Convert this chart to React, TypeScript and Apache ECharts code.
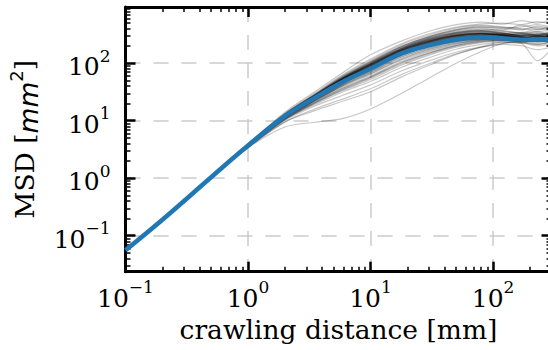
import React, { useEffect, useRef } from 'react';
import * as echarts from 'echarts';

// shared x positions of the individual trajectories (mm)
const xGrid = [0.1, 0.5, 1, 2, 3.5, 6, 10, 18, 30, 50, 80, 120, 170, 230, 300];

// individual trajectories (MSD, mm^2)
const upperRuns = [
  [0.056, 1.04, 3.8, 12.5, 27, 55, 95, 175, 250, 320, 350, 330, 310, 300, 290],
  [0.056, 1.04, 3.8, 12.5, 26, 53, 92, 170, 240, 305, 335, 325, 345, 310, 330],
  [0.056, 1.04, 3.8, 13, 28, 58, 103, 195, 285, 375, 420, 400, 380, 420, 360],
  [0.056, 1.04, 3.7, 12, 26, 51, 86, 160, 225, 285, 315, 300, 275, 290, 280],
  [0.056, 1.04, 3.8, 12.5, 27, 54, 94, 172, 248, 315, 330, 305, 280, 260, 300],
  [0.056, 1.04, 3.8, 13, 29, 62, 112, 212, 310, 410, 460, 430, 400, 380, 430],
  [0.056, 1.04, 3.7, 12, 26, 52, 88, 163, 233, 298, 300, 285, 310, 340, 300],
  [0.056, 1.04, 3.7, 12, 25, 49, 82, 152, 212, 270, 295, 290, 260, 240, 250],
  [0.056, 1.04, 3.8, 12.5, 27, 55, 97, 178, 260, 338, 370, 340, 300, 330, 310],
  [0.056, 1.04, 3.8, 12.5, 28, 57, 100, 186, 275, 350, 390, 380, 460, 400, 440],
  [0.056, 1.04, 3.7, 12, 25, 48, 81, 150, 208, 266, 295, 300, 280, 250, 270],
  [0.056, 1.04, 3.7, 12, 26, 51, 87, 160, 230, 298, 330, 310, 290, 300, 270],
  [0.056, 1.04, 3.9, 13.5, 30, 64, 118, 220, 325, 425, 485, 500, 470, 530, 480],
  [0.056, 1.04, 3.7, 12, 25, 50, 84, 155, 218, 278, 300, 280, 250, 220, 240],
  [0.056, 1.04, 3.7, 12, 25, 49, 82, 151, 212, 270, 290, 270, 260, 275, 240],
  [0.056, 1.04, 3.8, 12.5, 26, 53, 91, 168, 243, 308, 330, 310, 280, 300, 335],
  [0.056, 1.04, 3.7, 12, 25, 48, 80, 148, 205, 262, 285, 270, 250, 270, 260],
  [0.056, 1.04, 3.8, 12.5, 27, 56, 99, 183, 268, 342, 370, 330, 320, 355, 300],
  [0.056, 1.04, 3.9, 14, 32, 70, 140, 245, 360, 470, 520, 480, 550, 500, 570],
  [0.056, 1.04, 3.7, 12, 25, 49, 83, 153, 214, 272, 300, 295, 330, 300, 320],
  [0.056, 1.04, 3.8, 12.5, 26, 52, 90, 166, 238, 300, 320, 300, 270, 300, 290],
  [0.056, 1.04, 3.7, 12, 25, 50, 85, 158, 222, 283, 310, 320, 300, 290, 310],
  [0.056, 1.04, 3.8, 12.5, 27, 55, 96, 176, 255, 325, 350, 320, 290, 270, 310],
  [0.056, 1.04, 3.8, 13, 28, 60, 108, 200, 295, 390, 440, 420, 390, 440, 400],
  [0.056, 1.04, 3.8, 12.5, 26.5, 54, 93, 171, 245, 312, 340, 320, 300, 285, 305],
  [0.056, 1.04, 3.8, 12.5, 27, 56, 98, 180, 262, 335, 365, 350, 335, 360, 330],
  [0.056, 1.04, 3.7, 12, 25.5, 51, 88, 162, 232, 296, 325, 315, 295, 310, 285],
  [0.056, 1.04, 3.8, 12.5, 26.5, 53, 92, 169, 242, 306, 328, 305, 285, 270, 290],
  [0.056, 1.04, 3.8, 13, 28, 58, 104, 192, 282, 365, 400, 370, 340, 390, 350],
  [0.056, 1.04, 3.7, 12, 25.5, 50, 86, 158, 226, 290, 318, 310, 320, 300, 310],
  [0.056, 1.04, 3.8, 12.5, 27, 55, 96, 177, 256, 328, 356, 335, 305, 320, 340],
  [0.056, 1.04, 3.7, 12, 25, 49, 84, 154, 218, 280, 305, 300, 285, 265, 280],
  [0.056, 1.04, 3.8, 13, 28.5, 59, 106, 196, 290, 380, 430, 410, 430, 470, 420],
  [0.056, 1.04, 3.8, 12.5, 26, 53, 91, 167, 240, 304, 326, 315, 300, 320, 300],
  [0.056, 1.04, 3.7, 12, 25.5, 51, 87, 160, 229, 294, 322, 305, 280, 295, 270],
  [0.056, 1.04, 3.8, 12.5, 27, 56, 100, 184, 270, 345, 375, 360, 330, 310, 350],
];
const lowerRuns = [
  [0.056, 1.04, 3.6, 11.5, 23, 43, 71, 130, 185, 240, 268, 262, 242, 252, 240],
  [0.056, 1.04, 3.6, 11.5, 22.5, 42, 68, 122, 175, 228, 256, 250, 230, 210, 230],
  [0.056, 1.04, 3.6, 11, 22, 40, 64, 115, 165, 218, 252, 262, 240, 265, 230],
  [0.056, 1.04, 3.6, 11, 21, 37, 58, 104, 150, 205, 242, 252, 230, 200, 220],
  [0.056, 1.04, 3.6, 11.5, 23, 44, 74, 136, 195, 248, 272, 262, 282, 240, 262],
  [0.056, 1.04, 3.5, 10.5, 20, 34, 52, 93, 138, 190, 228, 242, 252, 230, 262],
  [0.056, 1.04, 3.5, 10.5, 19, 32, 48, 85, 125, 175, 212, 232, 222, 110, 180],
  [0.056, 1.04, 3.6, 11, 21, 38, 60, 108, 160, 214, 252, 272, 262, 300, 272],
  [0.056, 1.04, 3.5, 10, 18, 28, 42, 74, 110, 155, 192, 212, 202, 172, 192],
  [0.056, 1.04, 3.5, 10.5, 20, 35, 55, 98, 145, 198, 236, 252, 242, 282, 252],
  [0.056, 1.04, 3.4, 9.5, 16, 24, 36, 64, 98, 145, 188, 222, 232, 212, 242],
  [0.056, 1.04, 3.4, 7.8, 9.4, 11, 16, 30, 55, 100, 160, 220, 240, 250, 240],
  [0.056, 1.04, 3.4, 9.5, 15, 22, 32, 58, 92, 142, 192, 232, 222, 252, 232],
  [0.056, 1.04, 3.6, 11, 22, 41, 66, 118, 172, 225, 258, 268, 258, 238, 258],
  [0.056, 1.04, 3.6, 11.5, 23, 45, 76, 140, 198, 250, 275, 265, 255, 260, 250],
  [0.056, 1.04, 3.5, 10.5, 20.5, 36, 57, 102, 152, 205, 240, 250, 235, 245, 225],
  [0.056, 1.04, 3.6, 11.5, 23.5, 45, 77, 142, 200, 254, 280, 275, 265, 280, 255],
  [0.056, 1.04, 3.6, 11, 22, 42, 70, 128, 182, 236, 264, 270, 290, 260, 275],
];

// ensemble mean
const meanX = [0.1, 0.2, 0.5, 1, 2, 3.5, 6, 10, 18, 30, 50, 80, 120, 170, 230, 300];
const meanY = [0.056, 0.19, 1.04, 3.7, 12, 25, 48, 80, 148, 204, 256, 280, 270, 257, 257, 263];

// axis ticks
const xLabels = [0.1, 1, 10, 100];
const xMajor = [1, 10, 100];
const xMinor = [0.2, 0.3, 0.4, 0.5, 0.6, 0.7, 0.8, 0.9, 2, 3, 4, 5, 6, 7, 8, 9, 20, 30, 40, 50, 60, 70, 80, 90, 200, 300];
const yLabels = [0.1, 1, 10, 100];
const yMajor = [0.1, 1, 10, 100];
const yMinor = [0.03, 0.04, 0.05, 0.06, 0.07, 0.08, 0.09, 0.2, 0.3, 0.4, 0.5, 0.6, 0.7, 0.8, 0.9, 2, 3, 4, 5, 6, 7, 8, 9, 20, 30, 40, 50, 60, 70, 80, 90, 200, 300, 400, 500, 600, 700, 800, 900];

const X_MIN = 0.1, X_MAX = 300, Y_MIN = 0.0237, Y_MAX = 950;
const FONT = 'DejaVu Serif';
const FS = 25;
const NAME_FS = 26.5;

const supFmt = (v: number) => {
  const e = Math.round(Math.log10(v));
  return `{b|10}{s|${e < 0 ? '\u2212' + -e : e}}`;
};
const rich = {
  b: { fontFamily: FONT, fontSize: FS, color: '#000', lineHeight: 32, verticalAlign: 'bottom' },
  s: { fontFamily: FONT, fontSize: 17, color: '#000', lineHeight: 32, verticalAlign: 'top' },
};
const gridLine = { show: true, lineStyle: { color: 'rgba(200,200,200,0.7)', width: 2, type: [15, 13] } };

function axis(pos: string, min: number, max: number, ticks: number[], major: boolean, extra: any = {}) {
  return {
    type: 'log',
    logBase: 10,
    position: pos,
    min,
    max,
    axisLine: { show: major, onZero: false, lineStyle: { color: '#000', width: 3 } },
    axisTick: {
      show: true,
      inside: true,
      length: major ? 10 : 5,
      customValues: ticks,
      lineStyle: { color: '#000', width: major ? 2.5 : 1.5 },
    },
    axisLabel: { show: false },
    splitLine: { show: false },
    minorTick: { show: false },
    minorSplitLine: { show: false },
    ...extra,
  };
}

export default function App() {
  const ref = useRef<HTMLDivElement>(null);
  useEffect(() => {
    document.body.style.margin = '0';
    const chart = echarts.init(ref.current!, null, { renderer: 'svg' });
    const runs = [...upperRuns, ...lowerRuns];
    const series: any[] = runs.map((ys) => ({
      type: 'line',
      data: ys.map((y, i) => [xGrid[i], y]),
      showSymbol: false,
      smooth: 0.3,
      lineStyle: { color: 'rgba(0,0,0,0.22)', width: 1.2 },
      silent: true,
      z: 2,
    }));
    series.push({
      type: 'line',
      data: meanY.map((y, i) => [meanX[i], y]),
      showSymbol: false,
      smooth: 0.4,
      lineStyle: { color: '#1f77b4', width: 4.5 },
      z: 3,
    });
    chart.setOption({
      animation: false,
      grid: { left: 125.5, top: 7, right: -3.5, bottom: 78.3, outerBoundsMode: 'none', containLabel: false },
      xAxis: [
        axis('bottom', X_MIN, X_MAX, xMajor, true, {
          axisLabel: { show: true, customValues: xLabels, formatter: supFmt, rich, margin: 7 },
          splitLine: gridLine,
          name: 'crawling distance [mm]',
          nameLocation: 'middle',
          nameGap: 43,
          nameTextStyle: { fontFamily: FONT, fontSize: NAME_FS, color: '#000' },
        }),
        axis('bottom', X_MIN, X_MAX, xMinor, false),
        axis('top', X_MIN, X_MAX, xMajor, true),
        axis('top', X_MIN, X_MAX, xMinor, false),
      ],
      yAxis: [
        axis('left', Y_MIN, Y_MAX, yMajor, true, {
          axisLabel: { show: true, customValues: yLabels, formatter: supFmt, rich, margin: 15 },
          splitLine: gridLine,
          name: 'MSD [{i|mm}{s|2}]',
          nameLocation: 'middle',
          nameGap: 84,
          nameTextStyle: {
            fontFamily: FONT,
            fontSize: NAME_FS,
            color: '#000',
            rich: {
              i: { fontFamily: 'DejaVu Sans', fontStyle: 'italic', fontSize: NAME_FS, color: '#000', lineHeight: 34, verticalAlign: 'bottom' },
              s: { fontFamily: 'DejaVu Sans', fontSize: 18, color: '#000', lineHeight: 34, verticalAlign: 'top' },
            },
          },
        }),
        axis('left', Y_MIN, Y_MAX, yMinor, false),
        axis('right', Y_MIN, Y_MAX, yMajor, true),
        axis('right', Y_MIN, Y_MAX, yMinor, false),
      ],
      series,
    });
    return () => chart.dispose();
  }, []);
  return <div ref={ref} style={{ width: 548, height: 350 }} />;
}
